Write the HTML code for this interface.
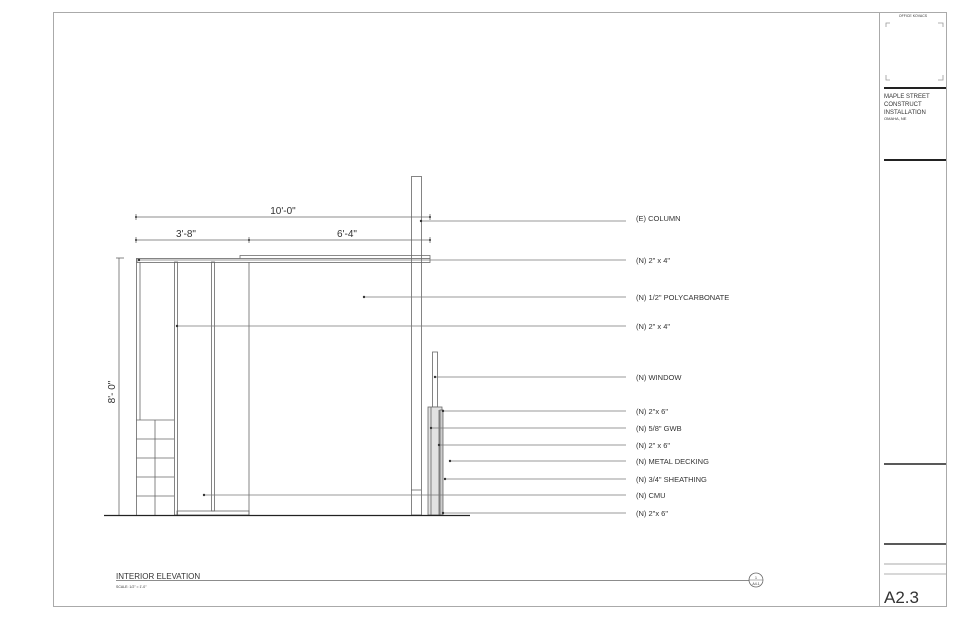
<!DOCTYPE html>
<html><head><meta charset="utf-8"><style>
html,body{margin:0;padding:0;background:#fff;}
svg{display:block;}
text{font-family:"Liberation Sans",sans-serif;fill:#333;}
</style></head><body>
<svg width="960" height="621" viewBox="0 0 960 621" xmlns="http://www.w3.org/2000/svg">
<rect x="0" y="0" width="960" height="621" fill="#fff"/>
<rect x="53.5" y="12.5" width="893" height="594" fill="none" stroke="#aaa" stroke-width="1"/>
<line x1="879.5" y1="12" x2="879.5" y2="606" stroke="#aaa"/>
<text x="913" y="17" font-size="3.5" text-anchor="middle">OFFICE KOVACS</text>
<path d="M886 27 V23 H890 M938 23 H943 V27 M886 75 V80 H890 M938 80 H943 V75" fill="none" stroke="#999" stroke-width="0.8"/>
<line x1="884" y1="88" x2="946" y2="88" stroke="#222" stroke-width="2"/>
<text x="884" y="98" font-size="6">MAPLE STREET</text>
<text x="884" y="106" font-size="6">CONSTRUCT</text>
<text x="884" y="114" font-size="6">INSTALLATION</text>
<text x="884" y="120" font-size="4">OMAHA, NE</text>
<line x1="884" y1="160" x2="946" y2="160" stroke="#222" stroke-width="2"/>
<line x1="884" y1="464" x2="946" y2="464" stroke="#222" stroke-width="1.5"/>
<line x1="884" y1="544" x2="946" y2="544" stroke="#222" stroke-width="1.5"/>
<line x1="884" y1="564" x2="946" y2="564" stroke="#bbb" stroke-width="1.2"/>
<line x1="884" y1="574" x2="946" y2="574" stroke="#999" stroke-width="0.8"/>
<text x="884" y="603" font-size="17" fill="#111">A2.3</text>

<g fill="none" stroke="#666" stroke-width="0.8">
<line x1="136" y1="217" x2="430" y2="217"/>
<line x1="136" y1="240" x2="430" y2="240"/>
<line x1="136" y1="214" x2="136" y2="220"/>
<line x1="136" y1="237" x2="136" y2="243"/>
<line x1="249" y1="237" x2="249" y2="243"/>
<line x1="430" y1="214" x2="430" y2="220"/>
<line x1="430" y1="237" x2="430" y2="243"/>
<line x1="119" y1="258" x2="119" y2="515"/>
<line x1="116" y1="258" x2="124" y2="258"/>
<rect x="411.5" y="176.5" width="10" height="338.5"/>
<line x1="411" y1="490" x2="421" y2="490"/>
<rect x="137" y="258.5" width="293" height="4"/>
<path d="M240 258.5 V255.5 H430 V258.5"/>
<line x1="136.5" y1="258" x2="136.5" y2="515"/>
<line x1="140" y1="262" x2="140" y2="420"/>
<line x1="136" y1="420" x2="174" y2="420"/>
<line x1="136" y1="439" x2="174" y2="439"/>
<line x1="136" y1="458" x2="174" y2="458"/>
<line x1="136" y1="477" x2="174" y2="477"/>
<line x1="136" y1="496" x2="174" y2="496"/>
<line x1="155" y1="420" x2="155" y2="515"/>
<rect x="174.5" y="262" width="3" height="253"/>
<rect x="211.5" y="262" width="3" height="249"/>
<line x1="249" y1="262" x2="249" y2="515"/>
<rect x="177" y="511" width="72" height="4"/>
<rect x="432.5" y="352" width="5" height="55"/>
<rect x="428" y="407" width="14" height="108" fill="#e2e2e2"/>
<line x1="431" y1="407" x2="431" y2="515"/>
<line x1="439" y1="410" x2="439" y2="515"/>
<rect x="440" y="410" width="3" height="105" fill="#ccc"/>
</g>
<line x1="104" y1="515.5" x2="470" y2="515.5" stroke="#222" stroke-width="1.2"/>

<g stroke="#777" stroke-width="0.7" fill="none">
<line x1="421" y1="221" x2="626" y2="221"/>
<line x1="139" y1="260" x2="626" y2="260"/>
<line x1="364" y1="297" x2="626" y2="297"/>
<line x1="177" y1="326" x2="626" y2="326"/>
<line x1="435" y1="377" x2="626" y2="377"/>
<line x1="443" y1="411" x2="626" y2="411"/>
<line x1="431" y1="428" x2="626" y2="428"/>
<line x1="439" y1="445" x2="626" y2="445"/>
<line x1="450" y1="461" x2="626" y2="461"/>
<line x1="445" y1="479" x2="626" y2="479"/>
<line x1="204" y1="495" x2="626" y2="495"/>
<line x1="443" y1="513" x2="626" y2="513"/>
</g>
<g fill="#333">
<circle cx="421" cy="221" r="1.2"/><circle cx="139" cy="260" r="1.2"/><circle cx="364" cy="297" r="1.2"/>
<circle cx="177" cy="326" r="1.2"/><circle cx="435" cy="377" r="1.2"/><circle cx="443" cy="411" r="1.2"/>
<circle cx="431" cy="428" r="1.2"/><circle cx="439" cy="445" r="1.2"/><circle cx="450" cy="461" r="1.2"/>
<circle cx="445" cy="479" r="1.2"/><circle cx="204" cy="495" r="1.2"/><circle cx="443" cy="513" r="1.2"/>
<circle cx="136" cy="217" r="1"/><circle cx="430" cy="217" r="1"/><circle cx="136" cy="240" r="1"/>
<circle cx="249" cy="240" r="1"/><circle cx="430" cy="240" r="1"/>
</g>
<g font-size="7.5">
<text x="636" y="221">(E) COLUMN</text>
<text x="636" y="263">(N) 2" x 4"</text>
<text x="636" y="300">(N) 1/2" POLYCARBONATE</text>
<text x="636" y="329">(N) 2" x 4"</text>
<text x="636" y="380">(N) WINDOW</text>
<text x="636" y="414">(N) 2"x 6"</text>
<text x="636" y="431">(N) 5/8" GWB</text>
<text x="636" y="448">(N) 2" x 6"</text>
<text x="636" y="464">(N) METAL DECKING</text>
<text x="636" y="482">(N) 3/4" SHEATHING</text>
<text x="636" y="498">(N) CMU</text>
<text x="636" y="516">(N) 2"x 6"</text>
</g>
<text x="283" y="214" font-size="10" text-anchor="middle">10'-0"</text>
<text x="186" y="237" font-size="10" text-anchor="middle">3'-8"</text>
<text x="347" y="237" font-size="10" text-anchor="middle">6'-4"</text>
<text x="0" y="0" font-size="10" text-anchor="middle" transform="translate(115,392) rotate(-90)">8'- 0"</text>

<text x="116" y="579" font-size="8" fill="#222">INTERIOR ELEVATION</text>
<text x="116" y="588" font-size="3.5">SCALE: 1/2" = 1'-0"</text>
<line x1="116" y1="580.5" x2="752" y2="580.5" stroke="#666" stroke-width="0.8"/>
<circle cx="756" cy="580" r="7" fill="#fff" stroke="#666" stroke-width="0.8"/>
<line x1="749" y1="580" x2="763" y2="580" stroke="#666" stroke-width="0.5"/>
<text x="756" y="579" font-size="3.5" text-anchor="middle">1</text>
<text x="756" y="585" font-size="3.5" text-anchor="middle">A4.1</text>
</svg>
</body></html>
